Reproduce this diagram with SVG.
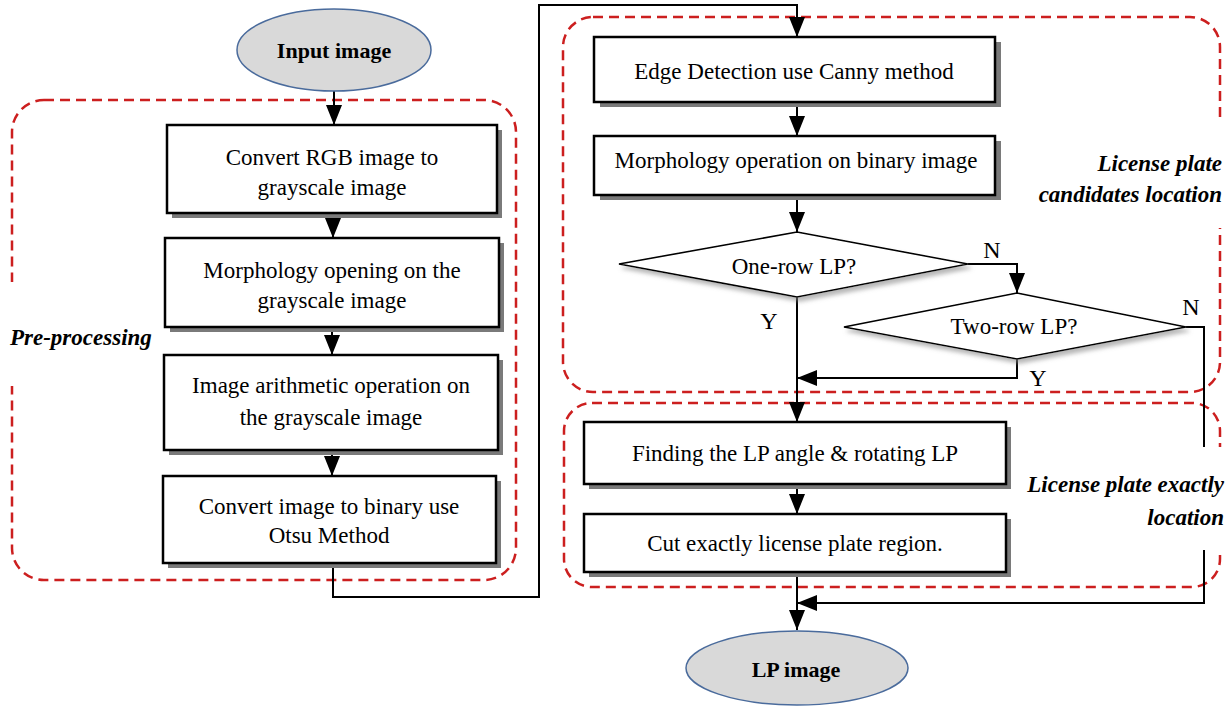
<svg xmlns="http://www.w3.org/2000/svg" width="1232" height="707" viewBox="0 0 1232 707">
<style>
.box{fill:#fff;stroke:#000;stroke-width:2.5}
.sh{fill:#7a7a7a}
.dia{fill:#fff;stroke:#000;stroke-width:1.6}
.ell{fill:#d9d9d9;stroke:#4a6b9c;stroke-width:1.5}
.grp{fill:none;stroke:#cc1f1f;stroke-width:2.5;stroke-dasharray:10 6}
.t{font-family:"Liberation Serif",serif;font-size:23px;fill:#000;text-anchor:middle}
.tb{font-family:"Liberation Serif",serif;font-size:22px;font-weight:bold;fill:#000;text-anchor:middle}
.lab{font-family:"Liberation Serif",serif;font-size:23px;font-weight:bold;font-style:italic;fill:#000}
.yn{font-family:"Liberation Serif",serif;font-size:24px;fill:#000;text-anchor:middle}
.ln{fill:none;stroke:#000;stroke-width:2}
</style>
<defs>
<marker id="ah" markerUnits="userSpaceOnUse" markerWidth="20" markerHeight="16" refX="20" refY="8" orient="auto">
<path d="M0,0 L20,8 L0,16 z" fill="#000"/>
</marker>
<filter id="ds" x="-10%" y="-20%" width="130%" height="150%">
<feDropShadow dx="3" dy="4" stdDeviation="2" flood-color="#888" flood-opacity="0.6"/>
</filter>
</defs>
<rect width="1232" height="707" fill="#fff"/>

<g id="groups">
<rect class="grp" x="12" y="100" width="504" height="480" rx="32"/>
<rect class="grp" x="563" y="17" width="657" height="375" rx="30"/>
<rect class="grp" x="564" y="403" width="656" height="184" rx="28"/>
</g>

<g id="connectors">
<line class="ln" x1="334" y1="91" x2="334" y2="125" marker-end="url(#ah)"/>
<line class="ln" x1="333" y1="213" x2="333" y2="238" marker-end="url(#ah)"/>
<line class="ln" x1="332" y1="327" x2="332" y2="355" marker-end="url(#ah)"/>
<line class="ln" x1="332" y1="450" x2="332" y2="476" marker-end="url(#ah)"/>
<polyline class="ln" points="333,563 333,597 539,597 539,5 797,5 797,37" marker-end="url(#ah)"/>
<line class="ln" x1="797" y1="102" x2="797" y2="136" marker-end="url(#ah)"/>
<line class="ln" x1="797" y1="195" x2="797" y2="232" marker-end="url(#ah)"/>
<polyline class="ln" points="968,264 1017,264 1017,293" marker-end="url(#ah)"/>
<line class="ln" x1="797" y1="297" x2="797" y2="422" marker-end="url(#ah)"/>
<polyline class="ln" points="1017,359 1017,378 797,378" marker-end="url(#ah)"/>
<polyline class="ln" points="1186,327 1204,327 1204,603 797,603" marker-end="url(#ah)"/>
<line class="ln" x1="797" y1="484" x2="797" y2="514" marker-end="url(#ah)"/>
<line class="ln" x1="797" y1="572" x2="797" y2="630" marker-end="url(#ah)"/>
</g>

<g id="labels">
<rect x="0" y="282" width="160" height="104" fill="#fff"/>
<text class="lab" x="10" y="345">Pre-processing</text>
<rect x="1032" y="122" width="200" height="106" fill="#fff"/>
<text class="lab" x="1222" y="171" text-anchor="end" font-size="22">License plate</text>
<text class="lab" x="1222" y="202" text-anchor="end" font-size="22">candidates location</text>
<rect x="1020" y="447" width="212" height="103" fill="#fff"/>
<text class="lab" x="1224" y="492" text-anchor="end">License plate exactly</text>
<text class="lab" x="1224" y="525" text-anchor="end">location</text>
<text class="yn" x="992" y="258">N</text>
<text class="yn" x="769" y="329">Y</text>
<text class="yn" x="1191" y="315">N</text>
<text class="yn" x="1038" y="386">Y</text>
</g>

<g id="input">
<ellipse class="ell" cx="334" cy="50" rx="97" ry="41"/>
<text class="tb" x="334" y="58">Input image</text>
</g>

<g id="b1">
<rect class="sh" x="172" y="130" width="330" height="88"/>
<rect class="box" x="167" y="125" width="330" height="88"/>
<text class="t" x="332" y="165">Convert RGB image to</text>
<text class="t" x="332" y="195">grayscale image</text>
</g>
<g id="b2">
<rect class="sh" x="170" y="243" width="334" height="89"/>
<rect class="box" x="165" y="238" width="334" height="89"/>
<text class="t" x="332" y="278">Morphology opening on the</text>
<text class="t" x="332" y="308">grayscale image</text>
</g>
<g id="b3">
<rect class="sh" x="169" y="360" width="334" height="95"/>
<rect class="box" x="164" y="355" width="334" height="95"/>
<text class="t" x="331" y="393">Image arithmetic operation on</text>
<text class="t" x="331" y="425">the grayscale image</text>
</g>
<g id="b4">
<rect class="sh" x="168" y="481" width="333" height="87"/>
<rect class="box" x="163" y="476" width="333" height="87"/>
<text class="t" x="329" y="514">Convert image to binary use</text>
<text class="t" x="329" y="543">Otsu Method</text>
</g>

<g id="edge">
<rect class="sh" x="600" y="42" width="401" height="65"/>
<rect class="box" x="594" y="37" width="401" height="65"/>
<text class="t" x="794" y="79">Edge Detection use Canny method</text>
</g>
<g id="morph">
<rect class="sh" x="600" y="141" width="401" height="59"/>
<rect class="box" x="594" y="136" width="401" height="59"/>
<text class="t" x="796" y="168">Morphology operation on binary image</text>
</g>
<g id="d1">
<polygon class="dia" filter="url(#ds)" points="797,232 968,264 797,297 619,264"/>
<text class="t" x="794" y="274" font-size="22">One-row LP?</text>
</g>
<g id="d2">
<polygon class="dia" filter="url(#ds)" points="1017,293 1186,327 1017,359 844,327"/>
<text class="t" x="1014" y="334" font-size="22">Two-row LP?</text>
</g>
<g id="find">
<rect class="sh" x="589" y="427" width="422" height="62"/>
<rect class="box" x="584" y="422" width="422" height="62"/>
<text class="t" x="795" y="461">Finding the LP angle &amp; rotating LP</text>
</g>
<g id="cut">
<rect class="sh" x="589" y="519" width="422" height="58"/>
<rect class="box" x="584" y="514" width="422" height="58"/>
<text class="t" x="795" y="551">Cut exactly license plate region.</text>
</g>
<g id="lpimage">
<ellipse class="ell" cx="797" cy="668" rx="111" ry="37"/>
<text class="tb" x="796" y="677" font-size="23">LP image</text>
</g>
</svg>
